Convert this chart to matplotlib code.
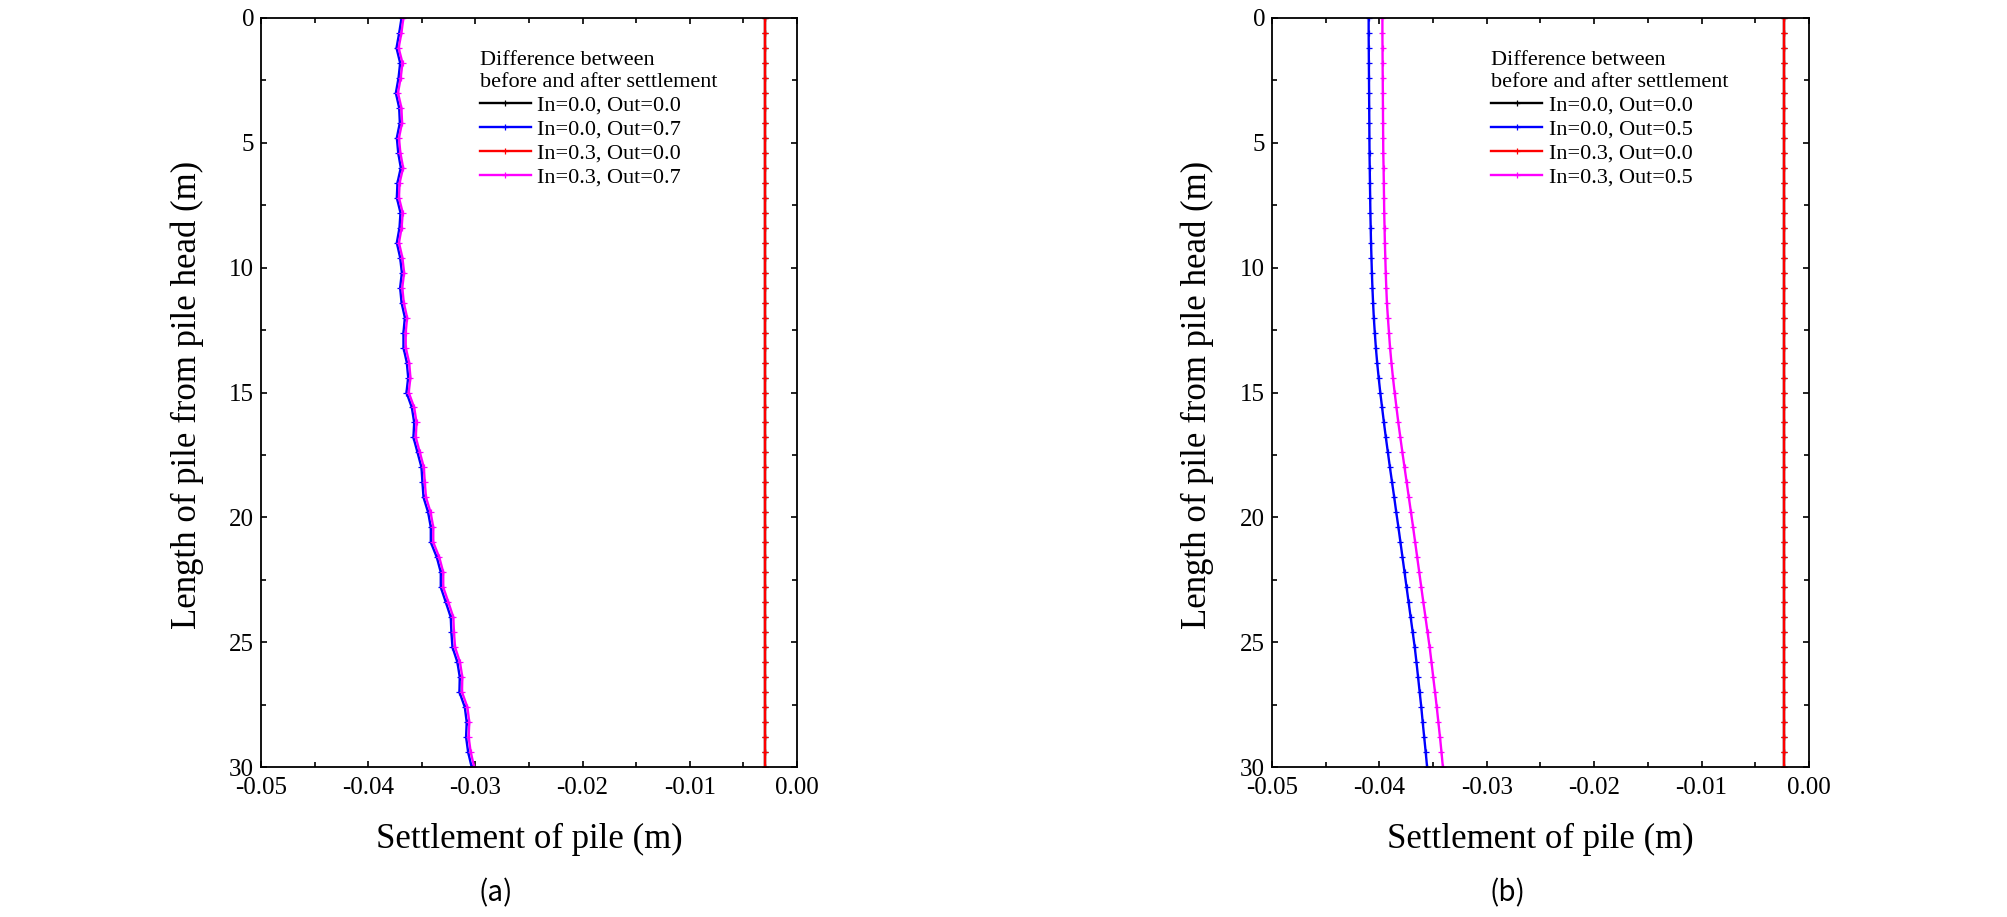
import matplotlib
matplotlib.use("Agg")
import matplotlib.pyplot as plt
from matplotlib.ticker import MultipleLocator

plt.rcParams['font.family'] = ['Liberation Serif', 'DejaVu Serif']
plt.rcParams['axes.unicode_minus'] = False

# ---------------- data ----------------
depth = [0.0, 0.6, 1.2, 1.8, 2.4, 3.0, 3.6, 4.2, 4.8, 5.4,
         6.0, 6.6, 7.2, 7.8, 8.4, 9.0, 9.6, 10.2, 10.8, 11.4,
         12.0, 12.6, 13.2, 13.8, 14.4, 15.0, 15.6, 16.2, 16.8, 17.4,
         18.0, 18.6, 19.2, 19.8, 20.4, 21.0, 21.6, 22.2, 22.8, 23.4,
         24.0, 24.6, 25.2, 25.8, 26.4, 27.0, 27.6, 28.2, 28.8, 29.4, 30.0]

# panel (a)
blue_a = [-0.03689, -0.03711, -0.03736, -0.03702, -0.03717, -0.03742, -0.03711, -0.03705, -0.03733, -0.03720,
          -0.03696, -0.03727, -0.03733, -0.03699, -0.03708, -0.03733, -0.03702, -0.03686, -0.03702, -0.03689,
          -0.03658, -0.03671, -0.03671, -0.03640, -0.03627, -0.03643, -0.03593, -0.03571, -0.03578, -0.03540,
          -0.03503, -0.03494, -0.03484, -0.03441, -0.03416, -0.03416, -0.03360, -0.03323, -0.03323, -0.03276,
          -0.03230, -0.03224, -0.03214, -0.03168, -0.03146, -0.03149, -0.03099, -0.03081, -0.03087, -0.03068,
          -0.03035]
magenta_a = [-0.03672, -0.03690, -0.03716, -0.03680, -0.03697, -0.03722, -0.03690, -0.03684, -0.03713, -0.03700,
             -0.03674, -0.03707, -0.03713, -0.03678, -0.03688, -0.03713, -0.03681, -0.03665, -0.03682, -0.03668,
             -0.03637, -0.03650, -0.03650, -0.03618, -0.03606, -0.03622, -0.03571, -0.03549, -0.03556, -0.03518,
             -0.03481, -0.03472, -0.03461, -0.03418, -0.03393, -0.03393, -0.03337, -0.03300, -0.03300, -0.03252,
             -0.03206, -0.03200, -0.03190, -0.03144, -0.03122, -0.03125, -0.03075, -0.03057, -0.03063, -0.03044,
             -0.03011]
red_a = [-0.0030, -0.0030, -0.0030, -0.0030, -0.0030, -0.0030, -0.0030, -0.0030, -0.0030, -0.0030,
         -0.0030, -0.0030, -0.0030, -0.0030, -0.0030, -0.0030, -0.0030, -0.0030, -0.0030, -0.0030,
         -0.0030, -0.0030, -0.0030, -0.0030, -0.0030, -0.0030, -0.0030, -0.0030, -0.0030, -0.0030,
         -0.0030, -0.0030, -0.0030, -0.0030, -0.0030, -0.0030, -0.0030, -0.0030, -0.0030, -0.0030,
         -0.0030, -0.0030, -0.0030, -0.0030, -0.0030, -0.0030, -0.0030, -0.0030, -0.0030, -0.0030,
         -0.0030]
black_a = list(red_a)   # hidden beneath the red curve in the original

# panel (b)
blue_b = [-0.04100, -0.04100, -0.04099, -0.04098, -0.04097, -0.04096, -0.04095, -0.04094, -0.04093, -0.04092,
          -0.04090, -0.04088, -0.04086, -0.04084, -0.04081, -0.04078, -0.04074, -0.04070, -0.04065, -0.04059,
          -0.04052, -0.04043, -0.04033, -0.04021, -0.04007, -0.03992, -0.03975, -0.03958, -0.03940, -0.03921,
          -0.03902, -0.03882, -0.03862, -0.03843, -0.03823, -0.03804, -0.03785, -0.03766, -0.03747, -0.03728,
          -0.03709, -0.03690, -0.03671, -0.03655, -0.03640, -0.03625, -0.03610, -0.03597, -0.03583, -0.03569,
          -0.03556]
magenta_b = [-0.03972, -0.03972, -0.03971, -0.03970, -0.03969, -0.03968, -0.03967, -0.03966, -0.03965, -0.03964,
             -0.03961, -0.03959, -0.03957, -0.03955, -0.03952, -0.03949, -0.03945, -0.03941, -0.03936, -0.03930,
             -0.03921, -0.03911, -0.03901, -0.03888, -0.03874, -0.03858, -0.03841, -0.03824, -0.03805, -0.03786,
             -0.03766, -0.03746, -0.03726, -0.03706, -0.03686, -0.03667, -0.03648, -0.03629, -0.03610, -0.03591,
             -0.03571, -0.03552, -0.03532, -0.03515, -0.03499, -0.03482, -0.03466, -0.03451, -0.03436, -0.03422,
             -0.03409]
red_b = [-0.0023, -0.0023, -0.0023, -0.0023, -0.0023, -0.0023, -0.0023, -0.0023, -0.0023, -0.0023,
         -0.0023, -0.0023, -0.0023, -0.0023, -0.0023, -0.0023, -0.0023, -0.0023, -0.0023, -0.0023,
         -0.0023, -0.0023, -0.0023, -0.0023, -0.0023, -0.0023, -0.0023, -0.0023, -0.0023, -0.0023,
         -0.0023, -0.0023, -0.0023, -0.0023, -0.0023, -0.0023, -0.0023, -0.0023, -0.0023, -0.0023,
         -0.0023, -0.0023, -0.0023, -0.0023, -0.0023, -0.0023, -0.0023, -0.0023, -0.0023, -0.0023,
         -0.0023]
black_b = list(red_b)

labels_a = ["In=0.0, Out=0.0", "In=0.0, Out=0.7", "In=0.3, Out=0.0", "In=0.3, Out=0.7"]
labels_b = ["In=0.0, Out=0.0", "In=0.0, Out=0.5", "In=0.3, Out=0.0", "In=0.3, Out=0.5"]
colors = ["#000000", "#0000FF", "#FF0000", "#FF00FF"]
legend_title = "Difference between\nbefore and after settlement"
xlabel = "Settlement of pile (m)"
ylabel = "Length of pile from pile head (m)"
panel_tags = ["(a)", "(b)"]

# ---------------- figure ----------------
W, H = 2008, 917
fig = plt.figure(figsize=(W / 100, H / 100), dpi=100)


def px_axes(left, right, top, bottom):
    return fig.add_axes([left / W, 1 - bottom / H, (right - left) / W, (bottom - top) / H])


def draw_panel(ax, series, labels):
    for vals, lab, col in zip(series, labels, colors):
        ax.plot(vals, depth, color=col, lw=1.7, marker='+', ms=4, mew=0.9, label=lab)
    ax.set_xlim(-0.05, 0.0)
    ax.set_ylim(30, 0)
    ax.xaxis.set_major_locator(MultipleLocator(0.01))
    ax.xaxis.set_minor_locator(MultipleLocator(0.005))
    ax.yaxis.set_major_locator(MultipleLocator(5))
    ax.yaxis.set_minor_locator(MultipleLocator(2.5))
    ax.xaxis.set_major_formatter(plt.FuncFormatter(lambda v, p: f"{v:.2f}" if abs(v) > 1e-9 else "0.00"))
    ax.yaxis.set_major_formatter(plt.FuncFormatter(lambda v, p: f"{v:.0f}"))
    ax.tick_params(which='both', direction='in', top=True, right=True, width=1.2)
    ax.tick_params(which='major', length=4.5, labelsize=18)
    ax.tick_params(axis='x', which='major', pad=7)
    ax.tick_params(axis='y', which='major', pad=5)
    ax.tick_params(which='minor', length=3.5)
    for s in ax.spines.values():
        s.set_linewidth(1.3)
    leg = ax.legend(title=legend_title, loc='upper left', bbox_to_anchor=(0.408, 0.956),
                    frameon=False, fontsize=16, title_fontsize=16, borderpad=0, borderaxespad=0,
                    handlelength=2.3, handletextpad=0.3, labelspacing=0.15, alignment='left')
    return leg


ax_a = px_axes(261, 797, 18, 767)
ax_b = px_axes(1272, 1809, 18, 767)
draw_panel(ax_a, [black_a, blue_a, red_a, magenta_a], labels_a)
draw_panel(ax_b, [black_b, blue_b, red_b, magenta_b], labels_b)

# axis labels and panel tags (pixel positions)
for cx, ylx, tagx, tag in [(529, 187, 496, panel_tags[0]), (1540, 1197, 1507, panel_tags[1])]:
    fig.text(cx / W, 1 - 839 / H, xlabel, ha='center', va='center', fontsize=25)
    fig.text(ylx / W, 1 - 395 / H, ylabel, ha='center', va='center', rotation=90, fontsize=25)
    fig.text(tagx / W, 1 - 893 / H, tag, ha='center', va='center', fontsize=20,
             family=['Noto Sans CJK KR', 'DejaVu Sans'])

fig.savefig("out.png", dpi=100, facecolor='white')
